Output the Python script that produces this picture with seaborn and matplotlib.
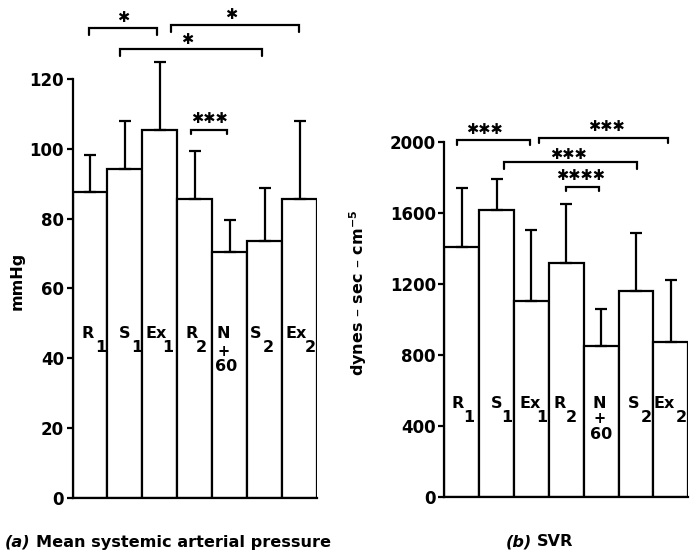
import numpy as np
import pandas as pd
import matplotlib
matplotlib.use("Agg")
import matplotlib.pyplot as plt
import seaborn as sns

# ---------------- data ----------------
conditions = ["R1", "S1", "Ex1", "R2", "N+60", "S2", "Ex2"]
label_main = ["R", "S", "Ex", "R", "N", "S", "Ex"]
label_sub = ["1", "1", "1", "2", "+", "2", "2"]
label_extra = ["", "", "", "", "60", "", ""]

map_mean = [87.5, 94.1, 105.4, 85.5, 70.5, 73.6, 85.5]
map_sd = [10.6, 13.9, 19.5, 13.8, 9.0, 15.3, 22.5]
map_ticks = [0, 20, 40, 60, 80, 100, 120]

svr_mean = [1408, 1615, 1104, 1315, 851, 1161, 873]
svr_sd = [329, 173, 398, 334, 205, 326, 348]
svr_ticks = [0, 400, 800, 1200, 1600, 2000]

# significance comparisons: (from index, to index, stars)
map_sig = [(0, 2, "✱"), (2, 6, "✱"), (1, 5, "✱"), (3, 4, "✱✱✱")]
svr_sig = [(0, 2, "✱✱✱"), (2, 6, "✱✱✱"), (1, 5, "✱✱✱"), (3, 4, "✱✱✱✱")]

# ---------------- style ----------------
sns.set_theme(style="white")
plt.rcParams["font.family"] = ["DejaVu Sans"]
plt.rcParams["font.weight"] = "bold"
plt.rcParams["axes.labelweight"] = "bold"
plt.rcParams["mathtext.default"] = "bf"
plt.rcParams["text.color"] = "black"
plt.rcParams["ytick.color"] = "black"
plt.rcParams["ytick.labelcolor"] = "black"

W, H = 690, 554
fig = plt.figure(figsize=(W / 100, H / 100), dpi=100)
fig.patch.set_facecolor("white")

def px_axes(x0, x1, ybot, ytop):
    return fig.add_axes([x0 / W, 1 - ybot / H, (x1 - x0) / W, (ybot - ytop) / H])

axA = px_axes(72.5, 317, 497.7, 79)
axB = px_axes(444.3, 688.3, 496.7, 141.7)

LW = 1.6
FS = 11.5

def draw_panel(ax, means, sds, ticks, ylim, col):
    df = pd.DataFrame({"cond": conditions, col: means})
    sns.barplot(data=df, x="cond", y=col, order=conditions, width=1.0,
                color="white", saturation=1, edgecolor="black", linewidth=LW,
                errorbar=None, ax=ax)
    x = np.arange(len(conditions))
    eb = ax.errorbar(x, means, yerr=[np.zeros(len(sds)), sds], fmt="none",
                     ecolor="black", elinewidth=LW, capsize=4.3, capthick=LW,
                     zorder=3)
    for artist in eb.lines[1] + eb.lines[2]:
        artist.set_clip_on(False)
    ax.set_xlim(-0.5, len(conditions) - 0.5)
    ax.set_ylim(*ylim)
    ax.set_yticks(ticks)
    ax.set_yticklabels([str(t) for t in ticks], fontsize=12, fontweight="bold",
                       color="black")
    ax.tick_params(axis="y", direction="out", length=4, width=LW, pad=2,
                   left=True, colors="black")
    ax.tick_params(axis="x", bottom=False, labelbottom=False)
    ax.set_xlabel("")
    ax.set_ylabel("")
    for s in ["top", "right"]:
        ax.spines[s].set_visible(False)
    for s in ["left", "bottom"]:
        ax.spines[s].set_linewidth(LW)
        ax.spines[s].set_color("black")
    ax.set_facecolor("white")

draw_panel(axA, map_mean, map_sd, map_ticks, (0, 120), "map")
draw_panel(axB, svr_mean, svr_sd, svr_ticks, (0, 2000), "svr")

# ---------- bar labels (layout offsets) ----------
A_main_dx = [-0.06, -0.01, -0.11, -0.10, -0.17, -0.25, -0.11]
A_sub_dx = [0.30, 0.34, 0.24, 0.20, -0.17, 0.12, 0.31]
A_extra_dx = [0, 0, 0, 0, -0.09, 0, 0]
A_y = (47.0, 43.0, 42.0, 37.5)  # main, sub, plus, extra

B_main_dx = [-0.11, 0.0, -0.05, -0.20, -0.05, -0.08, -0.18]
B_sub_dx = [0.20, 0.29, 0.29, 0.15, -0.05, 0.30, 0.31]
B_extra_dx = [0, 0, 0, 0, 0.0, 0, 0]
B_y = (525, 448, 438, 352)

def bar_labels(ax, mdx, sdx, edx, ys):
    for i in range(len(conditions)):
        ax.text(i + mdx[i], ys[0], label_main[i], ha="center", va="center",
                fontsize=FS, fontweight="bold", zorder=4)
        is_plus = label_sub[i] == "+"
        yy = ys[2] if is_plus else ys[1]
        ax.text(i + sdx[i], yy, label_sub[i], ha="center", va="center",
                fontsize=FS - 1 if is_plus else FS, fontweight="bold", zorder=4)
        if label_extra[i]:
            ax.text(i + edx[i], ys[3], label_extra[i], ha="center", va="center",
                    fontsize=FS, fontweight="bold", zorder=4)

bar_labels(axA, A_main_dx, A_sub_dx, A_extra_dx, A_y)
bar_labels(axB, B_main_dx, B_sub_dx, B_extra_dx, B_y)

# ---------- significance brackets (layout) ----------
# per bracket: x start, x end, line y, tick drop, star x, star y
A_br = [(-0.02, 1.91, 134.7, 2.0, 0.94, 137.6),
        (2.31, 5.98, 135.6, 2.0, 4.03, 138.6),
        (0.86, 4.93, 128.5, 2.0, 2.77, 131.2),
        (2.90, 3.93, 105.5, 1.2, 3.41, 108.8)]
B_br = [(-0.15, 1.95, 2010, 28, 0.66, 2066),
        (2.21, 5.92, 2019, 28, 4.16, 2085),
        (1.21, 5.04, 1887, 38, 3.06, 1929),
        (2.98, 3.93, 1746, 24, 3.42, 1807)]

def brackets(ax, sig, br):
    for (i, j, stars), (x0, x1, y, d, sx, sy) in zip(sig, br):
        ax.plot([x0, x0, x1, x1], [y - d, y, y, y - d], color="black",
                lw=LW, clip_on=False, solid_joinstyle="miter")
        ax.text(sx, sy, stars, ha="center", va="center", fontsize=10.5,
                fontweight="bold", clip_on=False)

brackets(axA, map_sig, A_br)
brackets(axB, svr_sig, B_br)

# ---------- axis labels ----------
fig.text(17 / W, 1 - 281 / H, "mmHg", rotation=90, ha="center", va="center",
         fontsize=FS, fontweight="bold")
fig.text(358 / W, 1 - 293 / H, r"dynes – sec – cm$^{\mathbf{-5}}$", rotation=90,
         ha="center", va="center", fontsize=FS, fontweight="bold")

# ---------- panel titles ----------
renderer = fig.canvas.get_renderer()
def title(x_px, tag, rest):
    t = fig.text(x_px / W, 1 - 542 / H, tag, ha="left", va="center",
                 fontsize=11.6, fontweight="bold", fontstyle="italic")
    bb = t.get_window_extent(renderer=renderer)
    fig.text((bb.x1 + 5) / W, 1 - 542 / H, rest, ha="left", va="center",
             fontsize=11.6, fontweight="bold")

title(5, "(a)", "Mean systemic arterial pressure")
title(506, "(b)", "SVR")

fig.savefig("out.png", dpi=100, facecolor="white")
